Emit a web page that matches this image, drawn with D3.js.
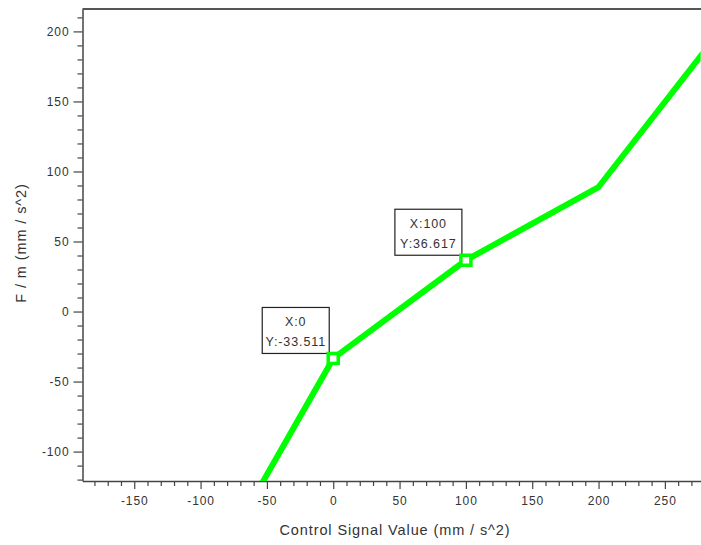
<!DOCTYPE html>
<html>
<head>
<meta charset="utf-8">
<script src="https://cdn.jsdelivr.net/npm/d3@7"></script>
<style>
  html, body { margin: 0; padding: 0; background: #fff; }
  svg { display: block; }
  text { font-family: "Liberation Sans", Arial, sans-serif; fill: #333; }
</style>
</head>
<body>
<svg id="chart" width="701" height="545"></svg>
<script>
// Control signal (mm/s^2) vs. resulting F/m (mm/s^2), piecewise-linear response
const controlValues = [-100, 0, 100, 200, 300];
const forceValues = [-199.5, -33.511, 36.617, 88.9, 210.3];

// Datatips placed on the curve
const tipX = [0, 100];
const tipY = [-33.511, 36.617];

// Axis ticks
const xMajorTicks = [-150, -100, -50, 0, 50, 100, 150, 200, 250];
const yMajorTicks = [-100, -50, 0, 50, 100, 150, 200];
const xDomain = [-189, 277];
const yDomain = [-121, 216];

const svg = d3.select("#chart");
const plot = { left: 82.5, right: 700.7, top: 9, bottom: 481 };

const x = d3.scaleLinear().domain(xDomain).range([plot.left, plot.right]);
const y = d3.scaleLinear().domain(yDomain).range([plot.bottom, plot.top]);

const xMinor = d3.range(-180, 280, 10).filter(v => !xMajorTicks.includes(v));
const yMinor = d3.range(-120, 220, 10).filter(v => !yMajorTicks.includes(v));

function styleAxis(g) {
  g.select(".domain").attr("stroke", "#444").attr("stroke-width", 1.5);
  g.selectAll(".tick line").attr("stroke", "#444").attr("stroke-width", 1.2);
  g.selectAll(".tick text")
    .attr("font-size", 12)
    .attr("letter-spacing", "0.9px")
    .attr("fill", "#333")
    .attr("font-family", "Liberation Sans, Arial, sans-serif");
}

// Minor ticks
svg.append("g")
  .attr("transform", `translate(0,${plot.bottom})`)
  .call(d3.axisBottom(x).tickValues(xMinor).tickSize(5).tickFormat(""))
  .call(g => { g.select(".domain").remove(); g.selectAll(".tick line").attr("stroke", "#444").attr("stroke-width", 1.2); });
svg.append("g")
  .attr("transform", `translate(${plot.left},0)`)
  .call(d3.axisLeft(y).tickValues(yMinor).tickSize(5).tickFormat(""))
  .call(g => { g.select(".domain").remove(); g.selectAll(".tick line").attr("stroke", "#444").attr("stroke-width", 1.2); });

// Major axes
svg.append("g")
  .attr("transform", `translate(0,${plot.bottom})`)
  .call(d3.axisBottom(x).tickValues(xMajorTicks).tickSize(8).tickSizeOuter(0).tickPadding(7).tickFormat(d => String(d)))
  .call(styleAxis);
svg.append("g")
  .attr("transform", `translate(${plot.left},0)`)
  .call(d3.axisLeft(y).tickValues(yMajorTicks).tickSize(9).tickSizeOuter(0).tickPadding(4).tickFormat(d => String(d)))
  .call(styleAxis);

// Top frame line
svg.append("line")
  .attr("x1", plot.left).attr("x2", 701)
  .attr("y1", plot.top).attr("y2", plot.top)
  .attr("stroke", "#555").attr("stroke-width", 2);

// Axis titles
svg.append("text")
  .attr("x", 395).attr("y", 535)
  .attr("text-anchor", "middle")
  .attr("font-size", 14.5)
  .attr("letter-spacing", "0.9px")
  .text("Control Signal Value (mm / s^2)");
svg.append("text")
  .attr("transform", "translate(26,243) rotate(-90)")
  .attr("text-anchor", "middle")
  .attr("font-size", 14.5)
  .attr("letter-spacing", "0.9px")
  .text("F / m (mm / s^2)");

// Clip the curve to the axes box
svg.append("clipPath").attr("id", "plot-clip")
  .append("rect")
  .attr("x", plot.left).attr("y", plot.top)
  .attr("width", plot.right - plot.left).attr("height", plot.bottom - plot.top);

const lineData = controlValues.map((v, i) => [v, forceValues[i]]);
svg.append("path")
  .datum(lineData)
  .attr("clip-path", "url(#plot-clip)")
  .attr("fill", "none")
  .attr("stroke", "#00ff00")
  .attr("stroke-width", 6)
  .attr("stroke-linejoin", "round")
  .attr("d", d3.line().x(d => x(d[0])).y(d => y(d[1])));

// Datatips
const tips = tipX.map((v, i) => ({ x: v, y: tipY[i] }));
const tipW = 67, tipH = 46;
const fmtTip = v => d3.format(".3f")(v).replace("\u2212", "-");
const tipG = svg.append("g").selectAll("g").data(tips).join("g");

tipG.append("rect")
  .attr("x", d => x(d.x) - 4 - tipW)
  .attr("y", d => y(d.y) - 5 - tipH)
  .attr("width", tipW).attr("height", tipH)
  .attr("fill", "#fff").attr("stroke", "#222").attr("stroke-width", 1.2);
tipG.append("text")
  .attr("x", d => x(d.x) - 4 - tipW / 2)
  .attr("y", d => y(d.y) - 5 - tipH + 19)
  .attr("text-anchor", "middle")
  .attr("font-size", 12.5)
  .attr("letter-spacing", "0.9px")
  .text(d => "X:" + d.x);
tipG.append("text")
  .attr("x", d => x(d.x) - 4 - tipW / 2)
  .attr("y", d => y(d.y) - 5 - tipH + 39)
  .attr("text-anchor", "middle")
  .attr("font-size", 12.5)
  .attr("letter-spacing", "0.9px")
  .text(d => "Y:" + fmtTip(d.y));
tipG.append("rect")
  .attr("x", d => x(d.x) - 5)
  .attr("y", d => y(d.y) - 5)
  .attr("width", 10).attr("height", 10)
  .attr("fill", "#fff").attr("stroke", "#00ff00").attr("stroke-width", 3.5);
</script>
</body>
</html>
